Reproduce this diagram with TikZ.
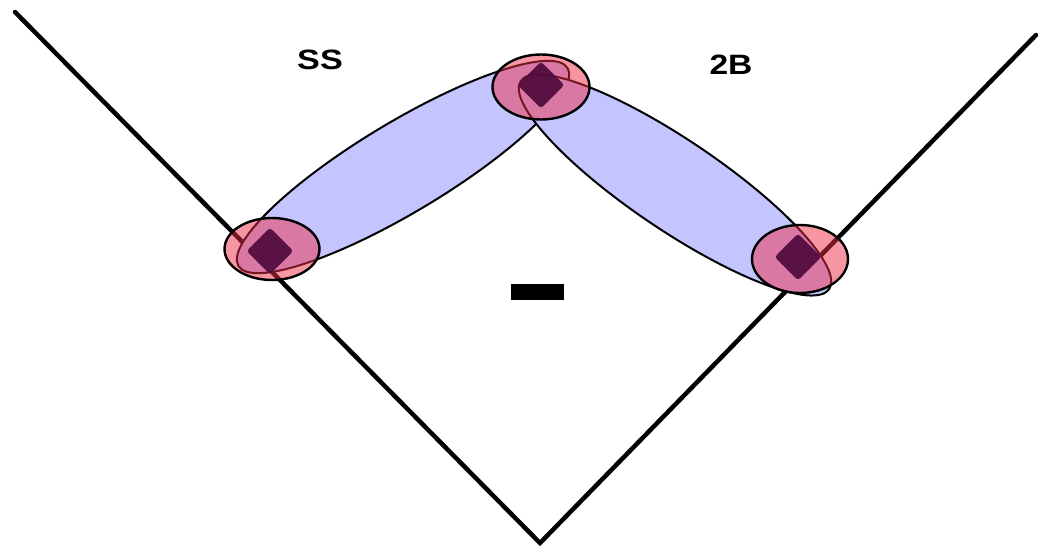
\documentclass[tikz,border=0pt]{standalone}
\usepackage{fontspec}
\setmainfont{Liberation Sans}
\usetikzlibrary{shapes.geometric}
\definecolor{zoneblue}{RGB}{196,196,255}
\definecolor{zonered}{RGB}{238,45,70}
\definecolor{bagcol}{RGB}{80,10,62}
\begin{document}
\begin{tikzpicture}[x=1pt,y=-1pt,
  foulline/.style={line width=4.5pt, line cap=round, line join=miter},
  runzone/.style={ellipse, draw=black, line width=2pt, fill=zoneblue, inner sep=0pt},
  basezone/.style={ellipse, draw=black, line width=2.4pt, fill=zonered, fill opacity=0.5, inner sep=0pt},
  bag/.style={rectangle, rounded corners=3pt, fill=bagcol, fill opacity=0.92, minimum size=33pt, inner sep=0pt, rotate=45},
  lbl/.style={font=\fontsize{28}{30}\selectfont\bfseries, inner sep=0pt}]
\useasboundingbox (0,0) rectangle (1038,546);
\coordinate (lf) at (15,12);
\coordinate (home) at (540,543);
\coordinate (rf) at (1036,35);
\draw[foulline] (lf) -- (home) -- (rf);
\node[runzone, minimum width=384pt, minimum height=90pt, rotate=31] (sszone) at (403,167) {};
\node[runzone, minimum width=372pt, minimum height=90pt, rotate=-34] (tbzone) at (675,185) {};
\node[basezone, minimum width=95pt, minimum height=62pt] (ssz) at (272,249) {};
\node[basezone, minimum width=97pt, minimum height=65pt] (twoz) at (541,87) {};
\node[basezone, minimum width=96pt, minimum height=68pt] (fz) at (800,259) {};
\node[bag] (third) at (270,251) {};
\node[bag] (second) at (541,85) {};
\node[bag] (first) at (798,257) {};
\node[fill=black, minimum width=53pt, minimum height=16pt, inner sep=0pt] (rubber) at (537.5,292) {};
\node[lbl] (sslbl) at (320,60) {\scalebox{1.22}[1]{SS}};
\node[lbl] (tblbl) at (731,65) {\scalebox{1.2}[1]{2B}};
\end{tikzpicture}
\end{document}
